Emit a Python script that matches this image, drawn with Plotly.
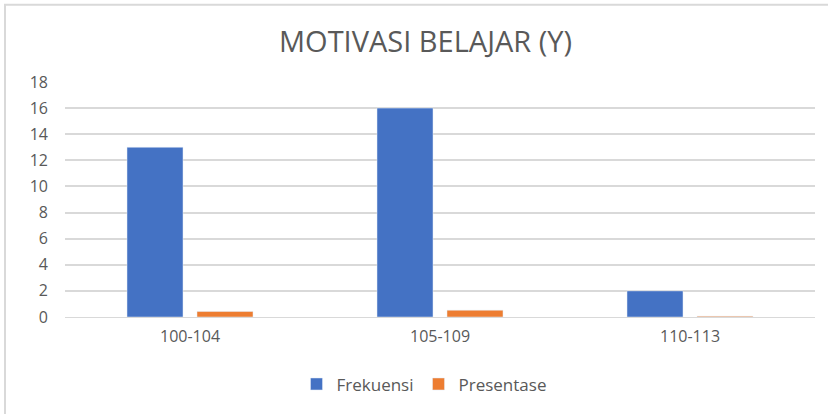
import plotly.graph_objects as go

categories = ["100-104", "105-109", "110-113"]
frekuensi = [13, 16, 2]
presentase = [0.42, 0.52, 0.06]
y_ticks = [0, 2, 4, 6, 8, 10, 12, 14, 16, 18]

W, H = 828, 414
L, R, T, B = 65, 13, 82, 95
pw, ph = W - L - R, H - T - B

def px_x(x):
    return (x - L) / pw

def px_y(y):
    return (H - B - y) / ph

fig = go.Figure()
fig.add_trace(go.Bar(name="Frekuensi", x=categories, y=frekuensi, marker_color="#4472C4"))
fig.add_trace(go.Bar(name="Presentase", x=categories, y=presentase, marker_color="#ED7D31"))

fig.update_layout(
    width=W, height=H,
    margin=dict(l=L, r=R, t=T, b=B),
    paper_bgcolor="white", plot_bgcolor="white",
    barmode="group", bargap=0.44, bargroupgap=0.2,
    font=dict(family="Open Sans", color="#595959", size=16),
    showlegend=True,
    legend=dict(orientation="h", x=px_x(424), xanchor="center", y=px_y(387), yanchor="middle",
                font=dict(size=17, color="#595959"), itemwidth=30, traceorder="normal"),
    xaxis=dict(showgrid=False, showline=True, linecolor="#d9d9d9", linewidth=1,
               tickfont=dict(size=16, color="#595959"), ticks="", ticklabelstandoff=5),
    yaxis=dict(range=[0, 18], tickvals=y_ticks, showgrid=True, gridcolor="#d9d9d9", gridwidth=1.5,
               zeroline=False, showline=False, ticks="",
               tickfont=dict(size=16, color="#595959"), ticklabelstandoff=16),
    annotations=[dict(text="MOTIVASI BELAJAR (Y)", x=px_x(425), y=px_y(40), xref="paper", yref="paper",
                      xanchor="center", yanchor="middle", showarrow=False,
                      font=dict(family="Open Sans", size=29, color="#595959"))],
    shapes=[dict(type="rect", xref="paper", yref="paper",
                 x0=px_x(5), x1=px_x(840), y0=px_y(430), y1=px_y(4),
                 line=dict(color="#d9d9d9", width=2), fillcolor="rgba(0,0,0,0)", layer="below")],
)

fig.write_html("out.html", config={"displayModeBar": False},
               post_script="document.body.style.margin='0';document.body.style.overflow='hidden';")
